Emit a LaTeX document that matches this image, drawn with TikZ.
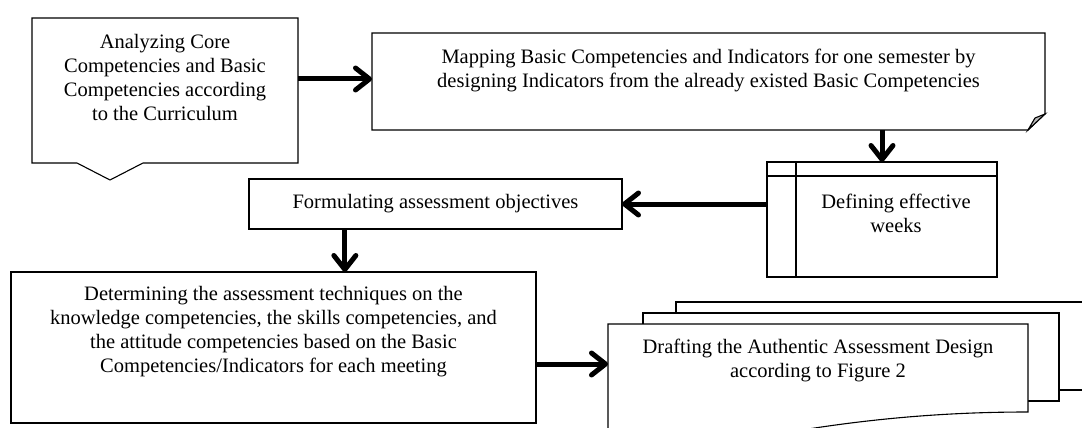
\documentclass[tikz,border=0pt]{standalone}
\usepackage{fontspec}
\setmainfont{Liberation Serif}
\usetikzlibrary{arrows.meta,calc}
\tikzset{
  box/.style={draw=none,inner sep=0pt,outer sep=0pt},
  lbl/.style={align=center,inner sep=0pt,font=\fontsize{20.5}{24}\selectfont},
  outline/.style={draw=black,line width=1.1pt,fill=white,line join=miter},
  flow/.style={line width=5pt,-{Straight Barb[length=14pt,width=22pt,line cap=round,line join=round]}}
}
\begin{document}
\begin{tikzpicture}[x=1pt,y=-1pt]
\useasboundingbox (0,0) rectangle (1082,428);
\clip (0,0) rectangle (1082,428);
% shape nodes
\node[box,minimum width=266pt,minimum height=145pt] (A) at (165,90.5) {};
\node[box,minimum width=673pt,minimum height=97pt] (B) at (708.5,81.5) {};
\node[box,minimum width=230pt,minimum height=115pt] (C) at (882,219.5) {};
\node[box,minimum width=373pt,minimum height=50pt] (D) at (435.5,204) {};
\node[box,minimum width=525pt,minimum height=151pt] (E) at (273.5,347.5) {};
\node[box,minimum width=420pt,minimum height=88pt] (F) at (818,368) {};
% A: off-page connector
\draw[outline] (A.north west) -- (A.north east) -- (A.south east)
  -- ($(A.south west)+(111,0)$) -- ($(A.south west)+(78,17)$) -- ($(A.south west)+(45,0)$)
  -- (A.south west) -- cycle;
% B: card with folded corner
\draw[outline] (B.north west) -- (B.north east) -- ($(B.south east)+(0,-16)$)
  -- ($(B.south east)+(-17,0)$) -- (B.south west) -- cycle;
\draw[line width=1.1pt,fill=black!28,line join=miter] ($(B.south east)+(-17,0)$) -- ($(B.south east)+(0,-16)$) -- ($(B.south east)+(-10,-12)$) -- cycle;
% C: internal storage
\draw[outline] (C.north west) rectangle (C.south east);
\draw[line width=1.1pt] ($(C.north west)+(0,14)$) -- ($(C.north east)+(0,14)$);
\draw[line width=1.1pt] ($(C.north west)+(29,0)$) -- ($(C.south west)+(29,0)$);
% D, E: process
\draw[outline] (D.north west) rectangle (D.south east);
\draw[outline] (E.north west) rectangle (E.south east);
% F: multi-document
\draw[outline] ($(F.north west)+(68,-22)$) rectangle ($(F.south east)+(120,-22)$);
\draw[outline] ($(F.north west)+(35,-11)$) rectangle ($(F.south east)+(31,-11)$);
\draw[outline] (F.north west) -- (F.north east) -- (F.south east)
  .. controls ($(F.south east)+(-90,0)$) and ($(F.south east)+(-170,8)$) .. ($(F.south east)+(-250,22)$)
  .. controls ($(F.south east)+(-320,34)$) and ($(F.south east)+(-380,40)$) .. ($(F.south west)+(0,40)$)
  -- cycle;
% texts
\node[lbl] (At) at (165,77) {Analyzing Core\\Competencies and Basic\\Competencies according\\to the Curriculum};
\node[lbl] (Bt) at (708.5,70) {Mapping Basic Competencies and Indicators for one semester by\\designing Indicators from the already existed Basic Competencies};
\node[lbl] (Ct) at (896,213) {Defining effective\\weeks};
\node[lbl] (Dt) at (435.5,204) {Formulating assessment objectives};
\node[lbl] (Et) at (273.5,332) {Determining the assessment techniques on the\\knowledge competencies, the skills competencies, and\\the attitude competencies based on the Basic\\Competencies/Indicators for each meeting};
\node[lbl] (Ft) at (818,360) {Drafting the Authentic Assessment Design\\according to Figure 2};
% connectors
\coordinate (Dout) at ($(D.south west)!0.257!(D.south east)$);
\draw[flow] ($(A.east |- B.west)+(0,-2.5)$) -- ($(B.west)+(0,-2.5)$);
\draw[flow] (B.south -| C.north) -- (C.north);
\draw[flow] (C.west |- D.east) -- (D.east);
\draw[flow] (Dout) -- (E.north -| Dout);
\draw[flow] ($(E.east |- F.west)+(0,-4)$) -- ($(F.west)+(0,-4)$);
\end{tikzpicture}
\end{document}
